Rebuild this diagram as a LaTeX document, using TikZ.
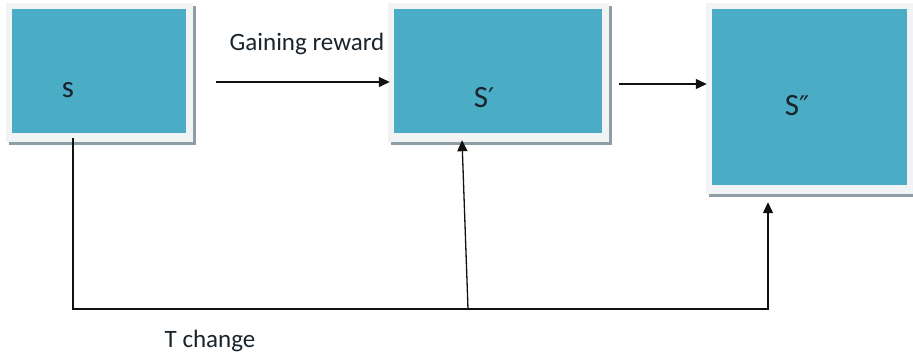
\documentclass[tikz,border=0pt]{standalone}
\usepackage{fontspec}
\setmainfont{Carlito}
\newfontfamily\primefont{DejaVu Sans}
\usetikzlibrary{arrows.meta,calc,backgrounds}
\definecolor{tealc}{HTML}{4BACC6}
\definecolor{framec}{HTML}{F1F3F4}
\definecolor{shadc}{HTML}{8E9EA6}
\definecolor{txtc}{HTML}{1A242C}
\definecolor{linec}{HTML}{111111}
\begin{document}
\begin{tikzpicture}[x=1pt,y=-1pt,
  statebox/.style={fill=tealc, inner sep=0pt, draw=none},
  lbl/.style={text=txtc, inner sep=0pt, font=\fontsize{25}{30}\selectfont},
  slbl/.style={text=txtc, inner sep=0pt, font=\fontsize{31}{36}\selectfont},
  conn/.style={draw=linec, line width=1.3pt},
  arr/.style={conn, -{Triangle[length=11pt,width=10pt]}}]
\useasboundingbox (0,0) rectangle (913,358);
\node[statebox, minimum width=174pt, minimum height=124pt] (b1) at (99,71) {};
\node[statebox, minimum width=208pt, minimum height=124pt] (b2) at (498,71) {};
\node[statebox, minimum width=195pt, minimum height=176pt] (b3) at (809.5,97) {};
\begin{scope}[on background layer]
\foreach \b in {b1,b2,b3}{
  \fill[shadc] ($(\b.north west)+(-3,-3)$) rectangle ($(\b.south east)+(10,12)$);
  \fill[framec] ($(\b.north west)+(-6,-6)$) rectangle ($(\b.south east)+(7,9)$);
}
\end{scope}
\node[slbl] (s1) at (68,90) {s};
\node[slbl] (s2) at (484,98) {S{\primefont\fontsize{27}{30}\selectfont ′}};
\node[slbl] (s3) at (797,106) {S{\primefont\fontsize{27}{30}\selectfont ″}};
\node[lbl] (gain) at (307,44) {Gaining reward};
\node[lbl] (tch) at (210,341) {T change};
\draw[arr] ($(b1.east)+(30,11)$) -- ($(b2.west)+(-4,11)$);
\draw[arr] ($(b2.east)+(17,13)$) -- ($(b3.west)+(-5,-13)$);
\coordinate (c1) at ($(b1.south)+(-26,5)$);
\coordinate (bl) at (73,309);
\coordinate (br) at (768,309);
\coordinate (jm) at (468,309);
\coordinate (t3) at ($(b3.south)+(-41.5,17)$);
\coordinate (t2) at ($(b2.south)+(-36,7)$);
\draw[arr] (c1) -- (bl) -- (br) -- (t3);
\draw[arr] (jm) -- (t2);
\end{tikzpicture}
\end{document}
